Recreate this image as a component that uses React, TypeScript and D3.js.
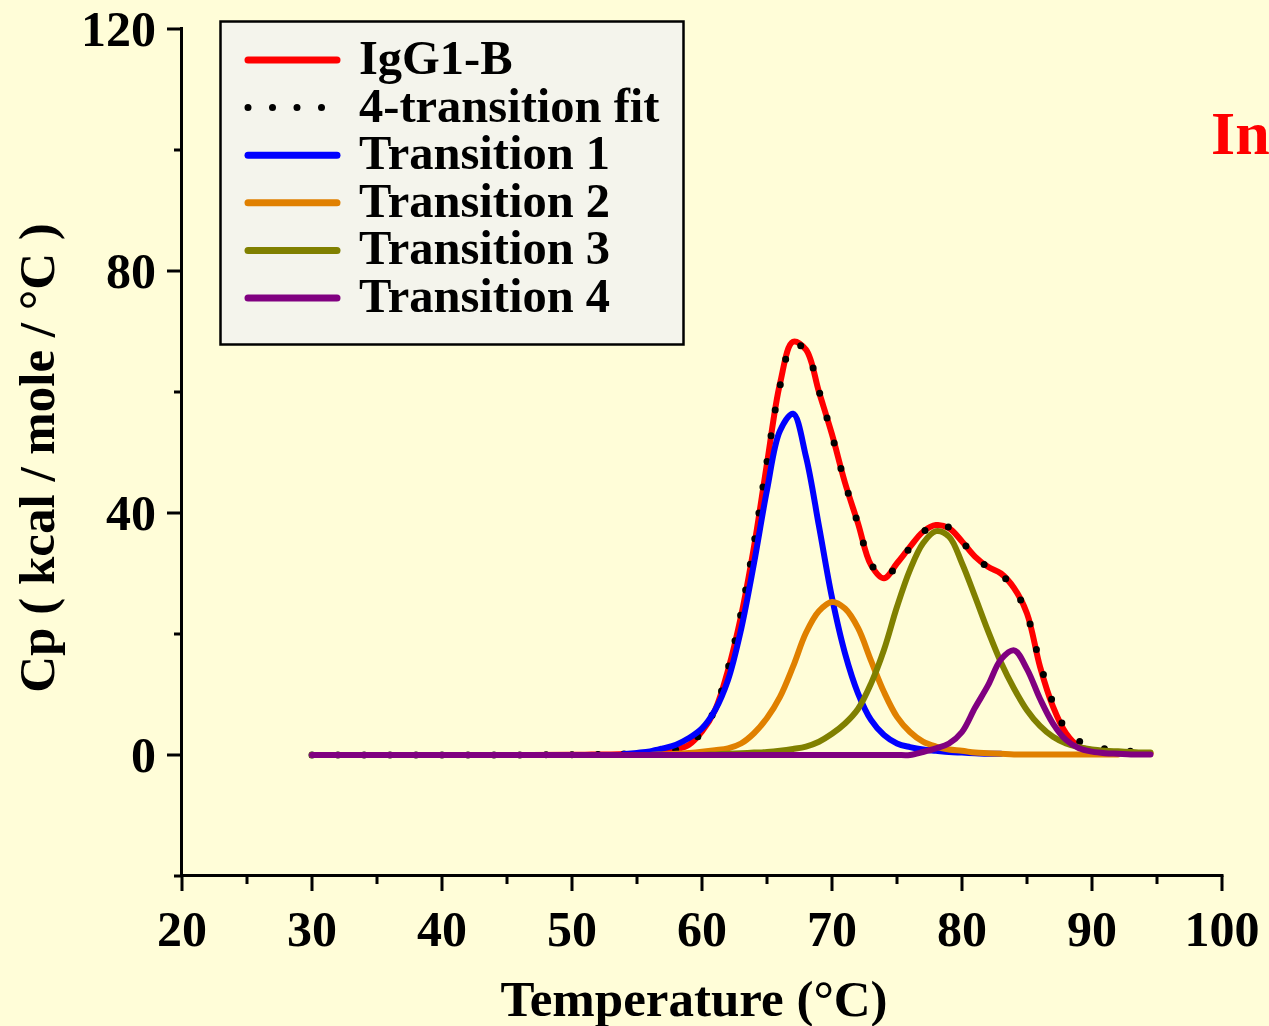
import React from "react";
import * as d3 from "d3";

// Temperature grid (°C)
const temps = [30, 35, 40, 45, 50, 51, 52, 53, 54, 55, 56, 57, 58, 59, 60, 61, 62, 63, 64, 65, 66, 67, 68, 69, 70, 71, 72, 73, 74, 75, 76, 77, 78, 79, 80, 81, 82, 83, 84, 85, 86, 87, 88, 89, 90, 91, 92, 93, 94, 94.5];

// Cp (kcal / mole / °C)
const igg1b = [0, 0, 0, 0, 0.05, 0.05, 0.1, 0.1, 0.15, 0.2, 0.3, 0.5, 0.9, 1.7, 3.9, 7.4, 14, 22.9, 34.4, 48.2, 61.4, 68.3, 67, 60, 53, 45, 38.3, 31.4, 29.2, 31.7, 34.4, 36.9, 38, 37.5, 35.3, 32.8, 31.1, 30, 27.6, 23.4, 14.6, 8, 3.6, 1.4, 0.8, 0.5, 0.4, 0.3, 0.3, 0.3];
const fit4 = [0, 0, 0, 0, 0.05, 0.05, 0.1, 0.1, 0.15, 0.2, 0.3, 0.5, 0.9, 1.8, 3.8, 7.6, 14.3, 23.4, 35, 48.5, 61, 68, 66.8, 60.2, 52.8, 45, 38.2, 31.6, 29.4, 31.3, 34.3, 36.8, 38.2, 37.6, 35.3, 32.8, 31, 29.8, 27.5, 23.2, 15.2, 8.6, 4.2, 2.3, 1.4, 1, 0.8, 0.6, 0.5, 0.5];
const trans1 = [null, null, null, null, null, null, null, null, 0.15, 0.35, 0.6, 1.1, 1.7, 2.8, 4.4, 7.4, 12.4, 20.7, 31.7, 43.8, 53.6, 56.4, 49.3, 37.8, 26, 16.8, 10.2, 5.8, 3.3, 1.9, 1.3, 0.9, 0.7, 0.5, 0.4, 0.3, 0.2, 0.2, null, null, null, null, null, null, null, null, null, null, null, null];
const trans2 = [0, 0, 0, 0, 0, 0, 0, 0, 0, 0, 0, 0.1, 0.2, 0.35, 0.55, 0.8, 1.1, 1.9, 3.6, 6.1, 9.6, 14.6, 20.2, 23.8, 25.3, 24.2, 21, 15.6, 10.4, 6.3, 3.8, 2.2, 1.4, 0.9, 0.7, 0.4, 0.3, 0.2, 0.1, 0.1, 0.1, 0.1, 0.1, 0.1, 0.1, 0.1, 0.1, null, null, null];
const trans3 = [0, 0, 0, 0, 0, 0, 0, 0, 0, 0, 0, 0, 0, 0, 0, 0.1, 0.2, 0.3, 0.4, 0.5, 0.7, 1, 1.4, 2.2, 3.5, 5.2, 7.6, 11.8, 17.4, 24.5, 30.6, 35, 37, 36.1, 31.7, 26.2, 20.5, 15.3, 11, 7.4, 4.8, 3, 1.9, 1.3, 0.9, 0.7, 0.6, 0.5, 0.4, 0.4];
const trans4 = [0, 0, 0, 0, 0, 0, 0, 0, 0, 0, 0, 0, 0, 0, 0, 0, 0, 0, 0, 0, 0, 0, 0, 0, 0, 0, 0, 0, 0, 0, 0, 0.5, 1.1, 1.9, 3.8, 7.8, 11.5, 15.8, 17.3, 14.2, 9.3, 5.2, 2.5, 1.1, 0.55, 0.3, 0.2, 0.1, 0.1, 0.1];

const seriesNames = ["IgG1-B", "4-transition fit", "Transition 1", "Transition 2", "Transition 3", "Transition 4"];
const seriesColors = ["#ff0000", "#000000", "#0000ff", "#e08000", "#808000", "#800080"];

const xTicks = [20, 30, 40, 50, 60, 70, 80, 90, 100];
const xMinorTicks = [25, 35, 45, 55, 65, 75, 85, 95];
const yTicks = [0, 40, 80, 120];
const yMinorTicks = [-20, 20, 60, 100];

const FONT = "'Liberation Serif', 'Times New Roman', serif";

export default function App() {
  const W = 1269;
  const H = 1026;
  const x = d3.scaleLinear().domain([20, 100]).range([182, 1222]);
  const y = d3.scaleLinear().domain([-20, 120]).range([876, 29]);

  const mk = (vals: (number | null)[]) =>
    d3
      .line<number>()
      .defined((_, i) => vals[i] !== null)
      .x((t) => x(t))
      .y((_, i) => y(vals[i] as number))
      .curve(d3.curveCatmullRom.alpha(0.5))(temps) || "";

  const drawOrder = [
    { vals: igg1b, color: seriesColors[0], dotted: false },
    { vals: fit4, color: seriesColors[1], dotted: true },
    { vals: trans1, color: seriesColors[2], dotted: false },
    { vals: trans2, color: seriesColors[3], dotted: false },
    { vals: trans3, color: seriesColors[4], dotted: false },
    { vals: trans4, color: seriesColors[5], dotted: false },
  ];

  const axisX = 181.5;
  const axisY = 875.5;

  return (
    <svg
      width={W}
      height={H}
      style={{ position: "absolute", left: 0, top: 0, display: "block" }}
      fontFamily={FONT}
      fontWeight="bold"
    >
      <rect x={0} y={0} width={W} height={H} fill="#fffdd8" />

      {/* curves */}
      {drawOrder.map((s, i) =>
        s.dotted ? (
          <path
            key={i}
            d={mk(s.vals)}
            fill="none"
            stroke={s.color}
            strokeWidth={7}
            strokeLinecap="round"
            strokeDasharray="0 26"
          />
        ) : (
          <path
            key={i}
            d={mk(s.vals)}
            fill="none"
            stroke={s.color}
            strokeWidth={6}
            strokeLinejoin="round"
            strokeLinecap="round"
          />
        )
      )}

      {/* axes */}
      <line x1={axisX} y1={27} x2={axisX} y2={axisY + 1.5} stroke="#000" strokeWidth={3} />
      <line x1={axisX - 1.5} y1={axisY} x2={x(100) + 1.5} y2={axisY} stroke="#000" strokeWidth={3} />
      {yTicks.map((v) => (
        <g key={"yt" + v}>
          <line x1={167} x2={axisX} y1={y(v)} y2={y(v)} stroke="#000" strokeWidth={3} />
          <text x={156} y={y(v) + 17} textAnchor="end" fontSize={50} fill="#000">
            {v}
          </text>
        </g>
      ))}
      {yMinorTicks.map((v) => (
        <line key={"ym" + v} x1={174} x2={axisX} y1={y(v)} y2={y(v)} stroke="#000" strokeWidth={3} />
      ))}
      {xTicks.map((v) => (
        <g key={"xt" + v}>
          <line x1={x(v)} x2={x(v)} y1={axisY} y2={891} stroke="#000" strokeWidth={3} />
          <text x={x(v)} y={946} textAnchor="middle" fontSize={50} fill="#000">
            {v}
          </text>
        </g>
      ))}
      {xMinorTicks.map((v) => (
        <line key={"xm" + v} x1={x(v)} x2={x(v)} y1={axisY} y2={884} stroke="#000" strokeWidth={3} />
      ))}

      {/* axis titles */}
      <text x={694} y={1016} textAnchor="middle" fontSize={51} fill="#000">
        Temperature (°C)
      </text>
      <text
        transform={`translate(54, 458) rotate(-90)`}
        textAnchor="middle"
        fontSize={51}
        fill="#000"
      >
        Cp ( kcal / mole / °C )
      </text>

      {/* legend */}
      <rect x={220.5} y={21.5} width={463} height={323} fill="#f4f4ec" stroke="#000" strokeWidth={2.5} />
      {seriesNames.map((name, i) => {
        const ly = 60 + i * 47.6;
        const dotted = i === 1;
        return (
          <g key={"lg" + i}>
            <line
              x1={248}
              x2={337}
              y1={ly}
              y2={ly}
              stroke={seriesColors[i]}
              strokeWidth={7}
              strokeLinecap="round"
              strokeDasharray={dotted ? "0 24.5" : undefined}
            />
            <text x={359} y={ly + 14} fontSize={48.5} fill="#000">
              {name}
            </text>
          </g>
        );
      })}

      {/* clipped red annotation */}
      <text x={1211} y={154} fontSize={62} fill="#ff0000">
        In
      </text>
    </svg>
  );
}
